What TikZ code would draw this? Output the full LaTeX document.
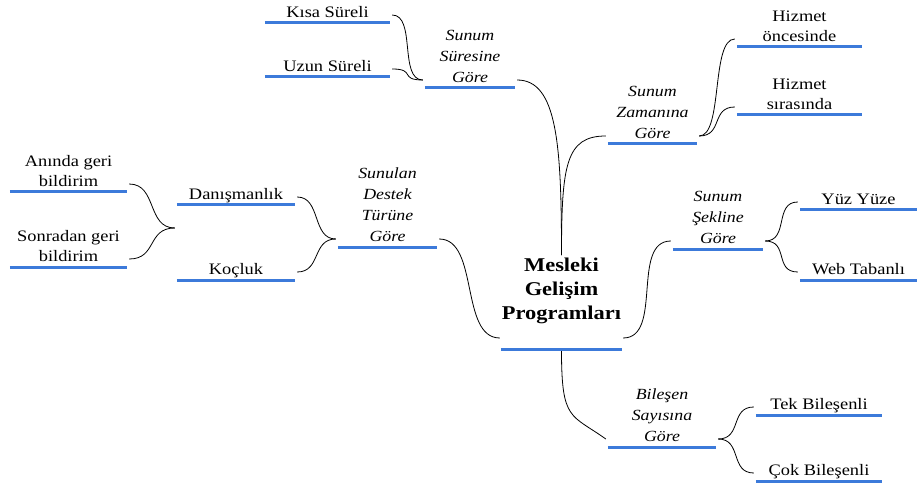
\documentclass[tikz,border=0pt]{standalone}
\usepackage{fontspec}
\setmainfont{Liberation Serif}[FakeStretch=1.15]
\definecolor{lineblue}{RGB}{60,122,218}

\begin{document}
\begin{tikzpicture}[
    x=1pt, y=-1pt,
    topic/.style={align=center, font=\fontsize{16}{20.5}\selectfont, inner xsep=0pt, inner ysep=5pt, text depth=0pt, anchor=south, minimum width=#1},
    branch/.style={topic=#1, font=\fontsize{15.5}{21}\selectfont\itshape},
    central/.style={topic=#1, font=\fontsize{19.5}{24}\selectfont\bfseries, inner ysep=3pt, text depth=26pt},
    uline/.style={draw=lineblue, line width=3pt},
    link/.style={black, line width=0.8pt}
  ]
    \useasboundingbox (0,0) rectangle (917,486);

    \node[central=121pt] (root) at (561.5,349) {Mesleki\\Gelişim\\Programları};

    \node[branch=90pt] (sure) at (470,88) {Sunum\\Süresine\\Göre};
    \node[topic=125pt] (kisa) at (327.5,23) {Kısa Süreli};
    \node[topic=125pt] (uzun) at (327.5,77) {Uzun Süreli};

    \node[branch=89pt] (zaman) at (652.5,144) {Sunum\\Zamanına\\Göre};
    \node[topic=125pt] (once) at (799.5,47) {Hizmet\\öncesinde};
    \node[topic=125pt] (sira) at (799.5,115) {Hizmet\\sırasında};

    \node[branch=99pt] (destek) at (387.5,247) {Sunulan\\Destek\\Türüne\\Göre};
    \node[topic=118pt] (danis) at (236,205) {Danışmanlık};
    \node[topic=118pt] (koc) at (236,280) {Koçluk};
    \node[topic=117pt] (aninda) at (68.5,192) {Anında geri\\bildirim};
    \node[topic=117pt] (sonra) at (68.5,267) {Sonradan geri\\bildirim};

    \node[branch=90pt] (sekil) at (718,249) {Sunum\\Şekline\\Göre};
    \node[topic=117pt] (yuz) at (858.5,210) {Yüz Yüze};
    \node[topic=117pt] (web) at (858.5,280) {Web Tabanlı};

    \node[branch=108pt] (bilesen) at (662,447) {Bileşen\\Sayısına\\Göre};
    \node[topic=126pt] (tek) at (819,415) {Tek Bileşenli};
    \node[topic=126pt] (cok) at (819,481) {Çok Bileşenli};

    % underlines
    \foreach \n in {root, sure, kisa, uzun, zaman, once, sira, destek, danis, koc, aninda, sonra, sekil, yuz, web, bilesen, tek, cok}
      \draw[uline] (\n.south west) -- (\n.south east);

    % main branches
    \draw[link] ([xshift=2pt, yshift=8pt]sure.south east) .. controls +(40,0) and +(0,-110) .. (root.north);
    \draw[link] (root.north) .. controls +(0,-90) and +(-40,0) .. ([xshift=-2pt, yshift=8pt]zaman.south west);
    \draw[link] ([xshift=2pt, yshift=8pt]destek.south east) .. controls +(40,0) and +(-40,0) .. ([xshift=-1pt, yshift=11pt]root.south west);
    \draw[link] ([xshift=1pt, yshift=11pt]root.south east) .. controls +(40,0) and +(-40,0) .. ([xshift=-2pt, yshift=8pt]sekil.south west);
    \draw[link] ([yshift=-2pt]root.south) .. controls +(0,70) and +(-35,-25) .. ([xshift=-2pt, yshift=8pt]bilesen.south west);

    % leaves
    \foreach \c/\p in {kisa/sure, uzun/sure, danis/destek, koc/destek}
      \draw[link] ([xshift=2pt, yshift=8pt]\c.south east) .. controls +(24,0) and +(-24,0) .. ([xshift=-2pt, yshift=8pt]\p.south west);
    \foreach \c in {aninda, sonra}
      \draw[link] ([xshift=2pt, yshift=8pt]\c.south east) .. controls +(28,0) and +(-28,0) .. ([xshift=-2pt, yshift=-23pt]danis.south west);
    \foreach \p/\c in {zaman/once, zaman/sira, sekil/yuz, sekil/web, bilesen/tek, bilesen/cok}
      \draw[link] ([xshift=2pt, yshift=8pt]\p.south east) .. controls +(24,0) and +(-24,0) .. ([xshift=-2pt, yshift=8pt]\c.south west);
\end{tikzpicture}
\end{document}
